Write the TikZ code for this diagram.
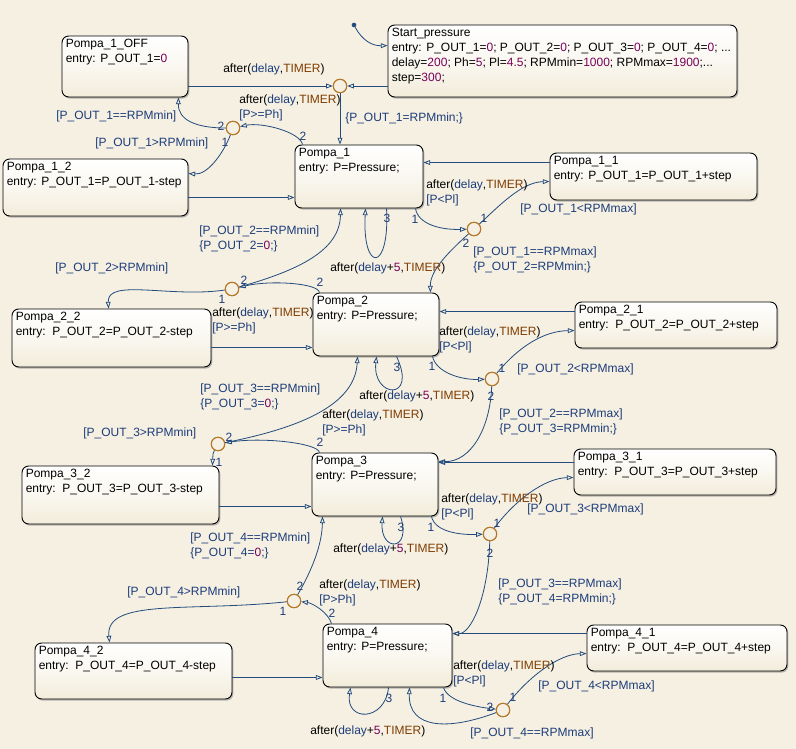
\documentclass[tikz,border=0pt]{standalone}
\usepackage{fontspec}
\setmainfont{Liberation Sans}
\usetikzlibrary{arrows.meta,shadows,fit,calc}
\definecolor{bgc}{RGB}{245,240,226}
\definecolor{stf}{RGB}{242,236,218}
\definecolor{lblue}{RGB}{28,60,122}
\definecolor{knum}{RGB}{120,0,90}
\definecolor{ktimer}{RGB}{128,60,0}
\definecolor{lcol}{RGB}{35,75,125}
\definecolor{jcol}{RGB}{180,120,40}
\newcommand\Dly{\textcolor{lblue}{delay}}
\newcommand\Tmr{\textcolor{ktimer}{TIMER}}
\newcommand\Nm[1]{\textcolor{knum}{#1}}
\newcommand\Aft{\textcolor{black}{after(}\Dly\textcolor{black}{,}\Tmr\textcolor{black}{)}}
\newcommand\AftF{\textcolor{black}{after(}\Dly\textcolor{black}{+}\Nm{5}\textcolor{black}{,}\Tmr\textcolor{black}{)}}
\begin{document}
\begin{tikzpicture}[x=0.75pt,y=-0.75pt,font=\fontsize{9}{11.25}\selectfont,
  st/.style={rounded corners=5pt, draw=black, line width=0.7pt, top color=white, bottom color=stf, middle color=white!60!stf,
    drop shadow={shadow xshift=1pt,shadow yshift=-1.2pt,opacity=0.55}, inner sep=0pt},
  stt/.style={anchor=north west, align=left, inner sep=0pt, text=black},
  tr/.style={draw=lcol, line width=0.6pt, -{Triangle[open,length=5pt,width=3.6pt]}},
  junc/.style={circle, draw=jcol, fill=bgc, line width=0.8pt, minimum size=10pt, inner sep=0pt},
  lbl/.style={anchor=west, inner sep=0pt, text=lblue},
  lbl2/.style={anchor=north west, align=left, inner sep=0pt, text=lblue},
  num/.style={inner sep=0pt, text=lblue}]
\fill[bgc] (0,0) rectangle (796,749);
\useasboundingbox (0,0) rectangle (796,749);

% states
\node[st, fit={(62,36) (188,97)}] (off) {};
\node[st, fit={(388,25) (737,97)}] (sp) {};
\node[st, fit={(3,159) (188,216)}] (p12) {};
\node[st, fit={(295,145) (423,208)}] (p1) {};
\node[st, fit={(550,153) (757,200)}] (p11) {};
\node[st, fit={(12,309) (211,367)}] (p22) {};
\node[st, fit={(313,293) (439,356)}] (p2) {};
\node[st, fit={(575,302) (777,348)}] (p21) {};
\node[st, fit={(22,466) (219,524)}] (p32) {};
\node[st, fit={(312,453) (438,516)}] (p3) {};
\node[st, fit={(574,449) (776,495)}] (p31) {};
\node[st, fit={(35,643) (232,699)}] (p42) {};
\node[st, fit={(323,624) (452,687)}] (p4) {};
\node[st, fit={(587,625) (787,671)}] (p41) {};

\node[stt] (offt) at ([shift={(4,3)}]off.north west) {Pompa\_1\_OFF\\entry: P\_OUT\_1=\Nm{0}};
\node[stt] (spt) at ([shift={(4,3)}]sp.north west) {Start\_pressure\\entry: P\_OUT\_1=\Nm{0}; P\_OUT\_2=\Nm{0}; P\_OUT\_3=\Nm{0}; P\_OUT\_4=\Nm{0}; ...\\delay=\Nm{200}; Ph=\Nm{5}; Pl=\Nm{4.5}; RPMmin=\Nm{1000}; RPMmax=\Nm{1900};...\\step=\Nm{300};};
\node[stt] (p12t) at ([shift={(4,3)}]p12.north west) {Pompa\_1\_2\\entry: P\_OUT\_1=P\_OUT\_1-step};
\node[stt] (p1t) at ([shift={(4,3)}]p1.north west) {Pompa\_1\\entry: P=Pressure;};
\node[stt] (p11t) at ([shift={(4,3)}]p11.north west) {Pompa\_1\_1\\entry: P\_OUT\_1=P\_OUT\_1+step};
\node[stt] (p22t) at ([shift={(4,3)}]p22.north west) {Pompa\_2\_2\\entry:\ \ P\_OUT\_2=P\_OUT\_2-step};
\node[stt] (p2t) at ([shift={(4,3)}]p2.north west) {Pompa\_2\\entry: P=Pressure;};
\node[stt] (p21t) at ([shift={(4,3)}]p21.north west) {Pompa\_2\_1\\entry:\ \ P\_OUT\_2=P\_OUT\_2+step};
\node[stt] (p32t) at ([shift={(4,3)}]p32.north west) {Pompa\_3\_2\\entry:\ \ P\_OUT\_3=P\_OUT\_3-step};
\node[stt] (p3t) at ([shift={(4,3)}]p3.north west) {Pompa\_3\\entry: P=Pressure;};
\node[stt] (p31t) at ([shift={(4,3)}]p31.north west) {Pompa\_3\_1\\entry:\ \ P\_OUT\_3=P\_OUT\_3+step};
\node[stt] (p42t) at ([shift={(4,3)}]p42.north west) {Pompa\_4\_2\\entry:\ \ P\_OUT\_4=P\_OUT\_4-step};
\node[stt] (p4t) at ([shift={(4,3)}]p4.north west) {Pompa\_4\\entry: P=Pressure;};
\node[stt] (p41t) at ([shift={(4,3)}]p41.north west) {Pompa\_4\_1\\entry:\ \ P\_OUT\_4=P\_OUT\_4+step};

% junctions
\node[junc] (j0) at (340,86) {};
\node[junc] (j1) at (233,128) {};
\node[junc] (j1r) at (474,229) {};
\node[junc] (j2l) at (232,289) {};
\node[junc] (j2r) at (492,379) {};
\node[junc] (j3l) at (218,444) {};
\node[junc] (j3r) at (490,534) {};
\node[junc] (j4l) at (294,601) {};
\node[junc] (j4r) at (503,710) {};
\node[circle, fill=lcol, inner sep=0pt, minimum size=3.5pt] (init) at (354,25) {};

% connectors
\draw[tr] (init) .. controls (362,40) and (372,46) .. ([shift={(0,21)}]sp.north west);
\draw[tr] (sp.west |- j0) -- (j0);
\draw[tr] (off.east |- j0) -- (j0);
\draw[tr] (j0) -- (j0 |- p1.north);
\draw[tr] ([shift={(8,0)}]p1.north west) .. controls (300,132) and (262,122) .. (j1);
\draw[tr] (j1) .. controls (196,128) and (178,120) .. ([shift={(-10,0)}]off.south east);
\draw[tr] (j1) .. controls (224,152) and (208,175) .. ([shift={(0,15)}]p12.north east);
\coordinate (e7) at ([shift={(0,-11)}]p1.south west);
\draw[tr] (p12.east |- e7) -- (e7);
\coordinate (s8) at ([shift={(0,10)}]p11.north west);
\draw[tr] (s8) -- (s8 -| p1.east);
\draw[tr] ([shift={(-8,0)}]p1.south east) .. controls (418,224) and (440,230) .. (j1r);
\draw[tr] (j1r) .. controls (500,205) and (522,182) .. ([shift={(0,29)}]p11.north west);
\draw[tr] (j1r) .. controls (445,255) and (430,272) .. ([shift={(-9,0)}]p2.north east);
\draw[tr] ([shift={(92,0)}]p1.south west) .. controls (390,273) and (362,273) .. ([shift={(71,0)}]p1.south west);
\draw[tr] (j2l) .. controls (300,270) and (340,250) .. ([shift={(46,0)}]p1.south west);
\draw[tr] ([shift={(7,0)}]p2.north west) .. controls (318,283) and (270,280) .. (j2l);
\draw[tr] (j2l) .. controls (170,298) and (107,278) .. ([shift={(97,0)}]p22.north west);
\coordinate (e16) at ([shift={(0,-9)}]p2.south west);
\draw[tr] (p22.east |- e16) -- (e16);
\coordinate (s17) at ([shift={(0,10)}]p21.north west);
\draw[tr] (s17) -- (s17 -| p2.east);
\draw[tr] ([shift={(-7,0)}]p2.south east) .. controls (436,372) and (460,380) .. (j2r);
\draw[tr] (j2r) .. controls (520,345) and (545,331) .. ([shift={(0,29)}]p21.north west);
\draw[tr] (j2r) .. controls (490,430) and (470,462) .. ([shift={(0,9)}]p3.north east);
\draw[tr] ([shift={(84,0)}]p2.south west) .. controls (418,402) and (372,398) .. ([shift={(64,0)}]p2.south west);
\draw[tr] (j3l) .. controls (300,428) and (355,405) .. ([shift={(45,0)}]p2.south west);
\draw[tr] ([shift={(8,0)}]p3.north west) .. controls (318,443) and (262,437) .. (j3l);
\draw[tr] (j3l) .. controls (213,453) .. ([shift={(-7,0)}]p32.north east);
\coordinate (e25) at ([shift={(0,-10)}]p3.south west);
\draw[tr] (p32.east |- e25) -- (e25);
\coordinate (s26) at ([shift={(0,14)}]p31.north west);
\draw[tr] (s26) -- (s26 -| p3.east);
\draw[tr] ([shift={(-7,0)}]p3.south east) .. controls (435,532) and (460,535) .. (j3r);
\draw[tr] (j3r) .. controls (515,500) and (545,478) .. ([shift={(0,29)}]p31.north west);
\draw[tr] (j3r) .. controls (488,600) and (470,634) .. ([shift={(0,10)}]p4.north east);
\draw[tr] ([shift={(89,0)}]p3.south west) .. controls (412,552) and (380,552) .. ([shift={(71,0)}]p3.south west);
\draw[tr] (j4l) .. controls (312,570) and (322,545) .. ([shift={(11,0)}]p3.south west);
\draw[tr] ([shift={(9,0)}]p4.north west) .. controls (328,612) and (312,603) .. (j4l);
\draw[tr] (j4l) .. controls (190,612) and (105,598) .. ([shift={(75,0)}]p42.north west);
\coordinate (e34) at ([shift={(0,-10)}]p4.south west);
\draw[tr] (p42.east |- e34) -- (e34);
\coordinate (s35) at ([shift={(0,9)}]p41.north west);
\draw[tr] (s35) -- (s35 -| p4.east);
\draw[tr] ([shift={(-9,0)}]p4.south east) .. controls (448,702) and (478,707) .. (j4r);
\draw[tr] (j4r) .. controls (530,675) and (560,654) .. ([shift={(0,29)}]p41.north west);
\draw[tr] (j4r) .. controls (450,730) and (408,730) .. ([shift={(87,0)}]p4.south west);
\draw[tr] ([shift={(66,0)}]p4.south west) .. controls (385,722) and (345,722) .. ([shift={(28,0)}]p4.south west);

% junction outlines on top
\foreach \j in {j0,j1,j1r,j2l,j2r,j3l,j3r,j4l,j4r}{\draw[jcol, line width=0.8pt, fill=bgc] (\j) circle (5pt);}

% transition labels
\node[lbl] (l1) at (223,69) {\Aft};
\node[lbl] (l2) at (345,118) {\{P\_OUT\_1=RPMmin;\}};
\node[lbl2] (l3) at (239,95) {\Aft\\{}[P>=Ph]};
\node[lbl] (l4) at (56,116) {[P\_OUT\_1==RPMmin]};
\node[lbl] (l5) at (95,143) {[P\_OUT\_1>RPMmin]};
\node[lbl2] (l6) at (426,180) {\Aft\\{}[P<Pl]};
\node[lbl] (l7) at (520,209) {[P\_OUT\_1<RPMmax]};
\node[lbl2] (l8) at (473,247) {[P\_OUT\_1==RPMmax]\\\{P\_OUT\_2=RPMmin;\}};
\node[lbl] (l9) at (330,268) {\AftF};
\node[lbl2] (l10) at (199,226) {[P\_OUT\_2==RPMmin]\\\{P\_OUT\_2=\Nm{0};\}};
\node[lbl] (l11) at (55,268) {[P\_OUT\_2>RPMmin]};
\node[lbl2] (l12) at (212,308) {\Aft\\{}[P>=Ph]};
\node[lbl2] (l13) at (439,327) {\Aft\\{}[P<Pl]};
\node[lbl] (l14) at (517,369) {[P\_OUT\_2<RPMmax]};
\node[lbl] (l15) at (359,396) {\AftF};
\node[lbl2] (l16) at (499,409) {[P\_OUT\_2==RPMmax]\\\{P\_OUT\_3=RPMmin;\}};
\node[lbl2] (l17) at (200,384) {[P\_OUT\_3==RPMmin]\\\{P\_OUT\_3=\Nm{0};\}};
\node[lbl2] (l18) at (322,410) {\Aft\\{}[P>=Ph]};
\node[lbl] (l19) at (83,433) {[P\_OUT\_3>RPMmin]};
\node[lbl2] (l20) at (441,494) {\Aft\\{}[P<Pl]};
\node[lbl] (l21) at (527,509) {[P\_OUT\_3<RPMmax]};
\node[lbl] (l22) at (333,549) {\AftF};
\node[lbl2] (l23) at (498,579) {[P\_OUT\_3==RPMmax]\\\{P\_OUT\_4=RPMmin;\}};
\node[lbl2] (l24) at (190,533) {[P\_OUT\_4==RPMmin]\\\{P\_OUT\_4=\Nm{0};\}};
\node[lbl2] (l25) at (319,580) {\Aft\\{}[P>Ph]};
\node[lbl] (l26) at (127,592) {[P\_OUT\_4>RPMmin]};
\node[lbl2] (l27) at (453,661) {\Aft\\{}[P<Pl]};
\node[lbl] (l28) at (538,686) {[P\_OUT\_4<RPMmax]};
\node[lbl] (l29) at (470,733) {[P\_OUT\_4==RPMmax]};
\node[lbl] (l30) at (310,731) {\AftF};

% transition order numbers
\node[num] (n1) at (303,136) {2};
\node[num] (n2) at (221,126) {2};
\node[num] (n3) at (225,142) {1};
\node[num] (n4) at (415,219) {1};
\node[num] (n5) at (484,218) {1};
\node[num] (n6) at (466,243) {2};
\node[num] (n7) at (387,218) {3};
\node[num] (n8) at (244,280) {2};
\node[num] (n9) at (320,282) {2};
\node[num] (n10) at (222,299) {1};
\node[num] (n11) at (432,366) {1};
\node[num] (n12) at (502,368) {1};
\node[num] (n13) at (491,396) {2};
\node[num] (n14) at (397,367) {3};
\node[num] (n15) at (229,437) {2};
\node[num] (n16) at (320,442) {2};
\node[num] (n17) at (219,462) {1};
\node[num] (n18) at (431,527) {1};
\node[num] (n19) at (497,523) {1};
\node[num] (n20) at (490,553) {2};
\node[num] (n21) at (401,527) {3};
\node[num] (n22) at (300,586) {2};
\node[num] (n23) at (332,613) {2};
\node[num] (n24) at (283,611) {1};
\node[num] (n25) at (443,698) {1};
\node[num] (n26) at (513,697) {1};
\node[num] (n27) at (490,707) {2};
\node[num] (n28) at (389,698) {3};
\end{tikzpicture}
\end{document}
